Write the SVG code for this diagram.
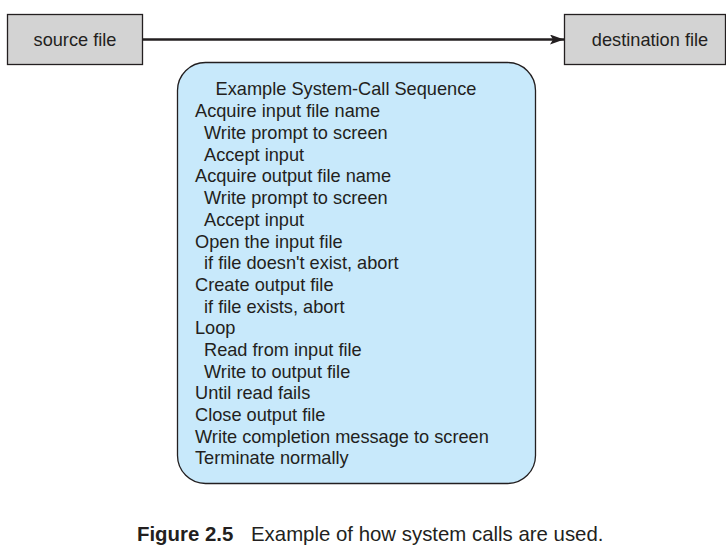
<svg xmlns="http://www.w3.org/2000/svg" width="726" height="549" viewBox="0 0 726 549">
<style>
.box{fill:#d3d3d3;stroke:#231f20;stroke-width:1.3}
.t{font-family:"Liberation Sans",Arial,sans-serif;font-size:18.2px;fill:#231f20}
.cap{font-family:"Liberation Sans",Arial,sans-serif;font-size:20.4px;fill:#231f20}
</style>
<defs>
<marker id="ah" viewBox="0 0 14 10" refX="14" refY="5" markerWidth="14" markerHeight="10" markerUnits="userSpaceOnUse" orient="auto">
<path d="M0,0 L14,5 L0,10 L3,5 Z" fill="#231f20"/>
</marker>
</defs>
<rect width="726" height="549" fill="#fff"/>
<g id="connectors">
<line x1="142" y1="39.5" x2="564" y2="39.5" stroke="#231f20" stroke-width="2.5" marker-end="url(#ah)"/>
</g>
<g id="source">
<rect class="box" x="7.5" y="14.5" width="135" height="50"/>
<text class="t" x="75" y="46" text-anchor="middle">source file</text>
</g>
<g id="destination">
<rect class="box" x="564.5" y="14.5" width="161" height="50"/>
<text class="t" x="650" y="46" text-anchor="middle">destination file</text>
</g>
<g id="sequence">
<rect x="177.5" y="62.5" width="358" height="421" rx="28" ry="28" fill="#c8e9fb" stroke="#231f20" stroke-width="1.3"/>
<text class="t" x="346" y="95" text-anchor="middle">Example System-Call Sequence</text>
<text class="t" x="195" y="117">Acquire input file name</text>
<text class="t" x="204" y="139">Write prompt to screen</text>
<text class="t" x="204" y="161">Accept input</text>
<text class="t" x="195" y="182">Acquire output file name</text>
<text class="t" x="204" y="204">Write prompt to screen</text>
<text class="t" x="204" y="226">Accept input</text>
<text class="t" x="195" y="248">Open the input file</text>
<text class="t" x="204" y="269">if file doesn't exist, abort</text>
<text class="t" x="195" y="291">Create output file</text>
<text class="t" x="204" y="313">if file exists, abort</text>
<text class="t" x="195" y="334">Loop</text>
<text class="t" x="204" y="356">Read from input file</text>
<text class="t" x="204" y="378">Write to output file</text>
<text class="t" x="195" y="399">Until read fails</text>
<text class="t" x="195" y="421">Close output file</text>
<text class="t" x="195" y="443">Write completion message to screen</text>
<text class="t" x="195" y="464">Terminate normally</text>
</g>
<text class="cap" x="137" y="541"><tspan font-weight="bold">Figure 2.5</tspan><tspan x="251">Example of how system calls are used.</tspan></text>
</svg>
